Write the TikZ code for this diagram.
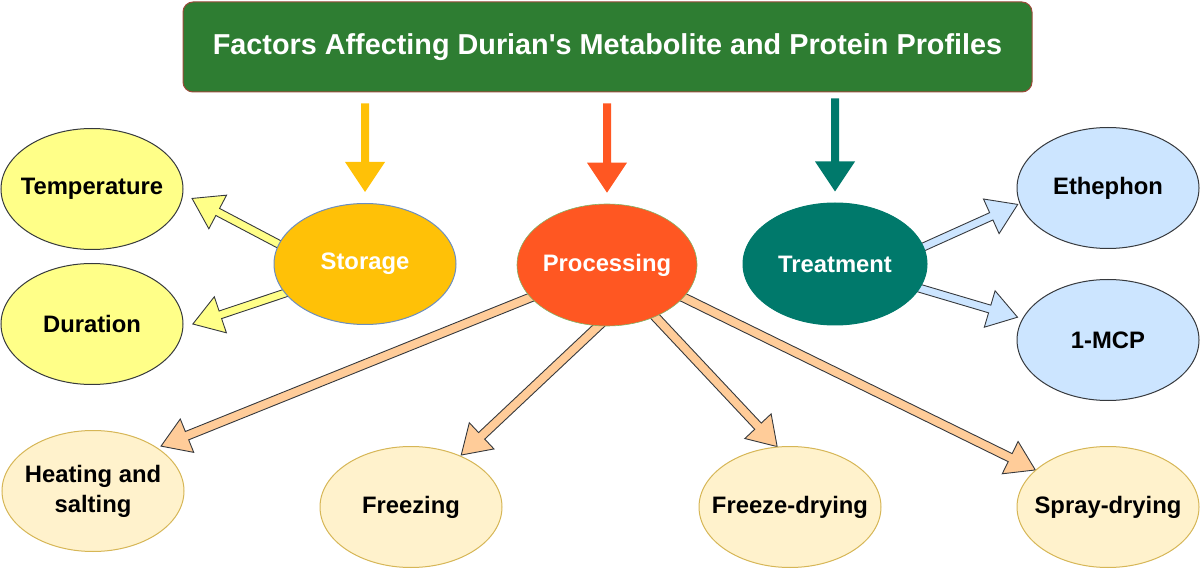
\documentclass[tikz,border=0pt]{standalone}
\usepackage{fontspec}
\setmainfont{Liberation Sans}
\usetikzlibrary{shapes.geometric,calc}
\definecolor{titlegreen}{HTML}{2E7D32}
\definecolor{titleborder}{HTML}{9C4A3A}
\definecolor{amber}{HTML}{FFC107}
\definecolor{deeporange}{HTML}{FF5722}
\definecolor{tealc}{HTML}{00796B}
\definecolor{lightyellow}{HTML}{FFFF88}
\definecolor{lightblue}{HTML}{CCE5FF}
\definecolor{cream}{HTML}{FFF2CC}
\definecolor{creamborder}{HTML}{D6B656}
\definecolor{peach}{HTML}{FFCC99}
\definecolor{outline}{HTML}{36393D}
\definecolor{storageborder}{HTML}{6C8EBF}
\definecolor{procborder}{HTML}{82B366}
\pgfdeclarelayer{bg}
\pgfsetlayers{bg,main}
% block arrow: style, from, to, start shift, tip gap, shaft half width, head half width, head length
\newcommand\blockarr[8]{%
  \coordinate (bS) at ($(#2)!#4!(#3)$);
  \coordinate (bT) at ($(#3)!#5!(#2)$);
  \coordinate (bB) at ($(bT)!#8!(bS)$);
  \draw[#1] ($(bS)!#6!90:(bT)$) -- ($(bB)!#6!90:(bT)$) -- ($(bB)!#7!90:(bT)$) -- (bT)
    -- ($(bB)!#7!-90:(bT)$) -- ($(bB)!#6!-90:(bT)$) -- ($(bS)!#6!-90:(bT)$) -- cycle;}
\tikzset{
  lab/.style={font=\bfseries\fontsize{23.8}{30}\selectfont, align=center},
  ell/.style={ellipse, minimum width=182pt, minimum height=121pt, inner sep=0pt, line width=1pt},
  yell/.style={ell, draw=outline, fill=lightyellow},
  bell/.style={ell, draw=outline, fill=lightblue},
  cell/.style={ell, draw=creamborder, fill=cream},
  yarr/.style={draw=outline, fill=lightyellow, line width=0.9pt, line join=miter},
  barr/.style={draw=outline, fill=lightblue, line width=0.9pt, line join=miter},
  parr/.style={draw=outline, fill=peach, line width=0.9pt, line join=miter},
}
\begin{document}
\begin{tikzpicture}[x=1pt,y=-1pt]
\useasboundingbox (0,0) rectangle (1200,569);
% title
\node[rounded corners=10pt, fill=titlegreen, draw=titleborder, line width=1pt,
      minimum width=849pt, minimum height=90pt, text=white,
      font=\bfseries\fontsize{28.8}{34}\selectfont] (title) at (607.5,47)
      {Factors Affecting Durian\textquotesingle s Metabolite and Protein Profiles};
% middle level
\node[ell, fill=amber, draw=storageborder, label={[lab,text=white]center:Storage}] (storage) at (365,264) {};
\node[ell, minimum width=180pt, minimum height=122pt, fill=deeporange, draw=procborder, line width=0.6pt,
      label={[lab,text=white]center:Processing}] (proc) at (607,265) {};
\node[ell, minimum width=184pt, minimum height=122pt, fill=tealc, draw=tealc,
      label={[lab,text=white]center:Treatment}] (treat) at (835,264) {};
% leaves
\node[yell, label={[lab]center:Temperature}] (temp) at (92,189) {};
\node[yell, label={[lab]center:Duration}] (dur) at (92,324) {};
\node[bell, label={[lab]center:Ethephon}] (eth) at (1108,188) {};
\node[bell, label={[lab]center:1-MCP}] (mcp) at (1108,340) {};
\node[cell, label={[lab]center:{Heating and\\salting}}] (heat) at (93,491) {};
\node[cell, label={[lab]center:Freezing}] (freez) at (411,507) {};
\node[cell, label={[lab]center:Freeze-drying}] (fdry) at (790,507) {};
\node[cell, label={[lab]center:Spray-drying}] (spray) at (1108,507) {};
% start points of down arrows
\coordinate (d1) at ($(title.south -| storage)+(0,11)$);
\coordinate (d2) at ($(title.south -| proc)+(0,11)$);
\coordinate (d3) at ($(title.south -| treat)+(0,6)$);
\begin{pgfonlayer}{bg}
  \blockarr{fill=amber, draw=none}{d1}{storage.north}{0pt}{11pt}{4pt}{20pt}{30pt}
  \blockarr{fill=deeporange, draw=none}{d2}{proc.north}{0pt}{11pt}{4pt}{20pt}{30pt}
  \blockarr{fill=tealc, draw=none}{d3}{treat.north}{0pt}{11pt}{4pt}{20pt}{30pt}
  \blockarr{yarr}{storage.167}{temp.-3}{-10pt}{10pt}{4pt}{19pt}{29pt}
  \blockarr{yarr}{storage.200}{dur.-2}{-10pt}{10pt}{4pt}{19pt}{29pt}
  \blockarr{barr}{treat.11}{eth.190}{-10pt}{2pt}{4pt}{19pt}{29pt}
  \blockarr{barr}{treat.-16}{mcp.166}{-10pt}{5pt}{4pt}{19pt}{29pt}
  \blockarr{parr}{proc.203}{heat.34}{-10pt}{4pt}{4.5pt}{18pt}{28pt}
  \blockarr{parr}{proc.262}{freez.46}{-10pt}{1pt}{4.5pt}{18pt}{28pt}
  \blockarr{parr}{proc.-47}{fdry.102}{-10pt}{0pt}{4.5pt}{18pt}{28pt}
  \blockarr{parr}{proc.-23}{spray.153}{-10pt}{0pt}{4.5pt}{18pt}{28pt}
\end{pgfonlayer}
\end{tikzpicture}
\end{document}
